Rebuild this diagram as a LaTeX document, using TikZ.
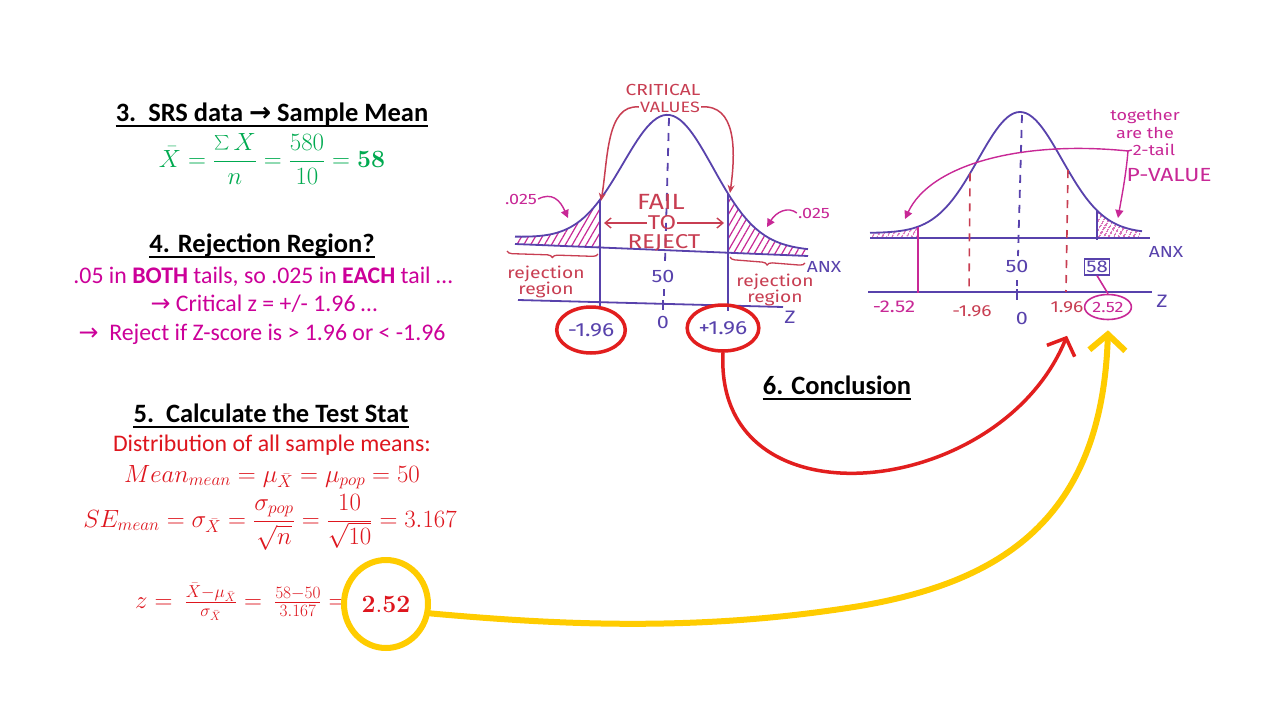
\documentclass[tikz,border=0pt]{standalone}
\usepackage[no-math]{fontspec}
\usepackage{graphicx}
\setmainfont{Carlito}
\newfontfamily\hand[FakeStretch=1.2]{Fira Sans}
\newfontfamily\dv{DejaVu Sans}
\usetikzlibrary{shapes.geometric, arrows.meta, patterns.meta, decorations.pathreplacing}
\definecolor{sgreen}{RGB}{0,170,80}
\definecolor{spink}{RGB}{204,0,153}
\definecolor{sred}{RGB}{222,22,30}
\definecolor{hblue}{RGB}{88,66,172}
\definecolor{hred}{RGB}{200,62,82}
\definecolor{hmag}{RGB}{200,40,150}
\definecolor{inkred}{RGB}{226,30,30}
\definecolor{yel}{RGB}{255,204,0}
\newcommand{\hf}[1]{\hand\fontsize{#1}{#1}\selectfont}
\newcommand{\bigsum}{\mathop{\vcenter{\hbox{\scalebox{1.45}{$\sum$}}}}\nolimits}
\begin{document}
\begin{tikzpicture}[x=1pt,y=-1pt,
  declare function={lc(\x)=237+0.045*(\x-515)-129*exp(-0.5*((\x-668)/45)^2);
                    la(\x)=244+12*(\x-515)/293;
                    rc(\x)=233-121*exp(-0.5*((\x-1020)/42)^2);},
  ttl/.style={font=\fontsize{26.5}{30}\selectfont\bfseries, inner sep=0pt, anchor=base},
  pinkt/.style={font=\fontsize{23.8}{27}\selectfont, text=spink, inner sep=0pt, anchor=base},
  redt/.style={font=\fontsize{23.8}{27}\selectfont, text=sred, inner sep=0pt, anchor=base},
  mathg/.style={font=\fontsize{24}{28}\selectfont, text=sgreen, inner sep=0pt, anchor=base},
  mathr/.style={font=\fontsize{23}{28}\selectfont, text=sred, inner sep=0pt, anchor=base},
  hand/.style={inner sep=1pt},
  bline/.style={hblue, line width=1.8pt},
  hatchL/.style={pattern={Lines[angle=60,distance=6pt,line width=1.2pt]}, pattern color=hmag},
  hatchR/.style={pattern={Lines[angle=60,distance=4pt,line width=1.3pt]}, pattern color=hmag},
  uline/.style={line width=1.6pt}
]
\useasboundingbox (0,0) rectangle (1280,720);
\fill[white] (0,0) rectangle (1280,720);

% ---------- left text column ----------
\node[ttl] (t3) at (272,121) {3.\ \ SRS data {\dv →} Sample Mean};
\draw[uline] ([yshift=-5pt]t3.base west) -- ([yshift=-5pt]t3.base east);
\node[mathg] (f3) at (272,167) {$\displaystyle \bar{X}=\frac{\bigsum X}{n}=\frac{580}{10}=\mathbf{58}$};

\node[ttl] (t4) at (262,252) {4. Rejection Region?};
\draw[uline] ([yshift=-5pt]t4.base west) -- ([yshift=-5pt]t4.base east);
\node[pinkt] (p1) at (263,283) {.05 in \textbf{BOTH} tails, so .025 in \textbf{EACH} tail …};
\node[pinkt] (p2) at (264,311) {{\dv →} Critical z = +/- 1.96 …};
\node[pinkt] (p3) at (262,340) {{\dv →}\ \ Reject if Z-score is > 1.96 or < -1.96};

\node[ttl] (t5) at (271,422) {5.\ \ Calculate the Test Stat};
\draw[uline] ([yshift=-5pt]t5.base west) -- ([yshift=-5pt]t5.base east);
\node[redt] (d5) at (272,451) {Distribution of all sample means:};
\node[mathr] (m5) at (272,482) {$Mean_{mean}=\mu_{\bar{X}}=\mu_{pop}=50$};
\node[mathr] (s5) at (270,527) {$\displaystyle SE_{mean}=\sigma_{\bar{X}}=\frac{\sigma_{pop}}{\sqrt{n}}=\frac{10}{\sqrt{10}}=3.167$};
\node[mathr, anchor=base west] (z5) at (135,608) {$z=\ \frac{\bar{X}-\mu_{\bar{X}}}{\sigma_{\bar{X}}}=\ \frac{58-50}{3.167}=$};
\node[ellipse, draw=yel, line width=6pt, minimum width=84pt, minimum height=88pt, inner sep=0pt,
      font=\fontsize{24}{30}\selectfont, text=sred] (zval) at (386,604) {$\mathbf{2.52}$};

% ---------- left hand-drawn graph ----------
\fill[hatchL] plot[domain=515:600,samples=30] (\x,{lc(\x)}) -- (600,{la(600)}) -- (515,{la(515)}) -- cycle;
\fill[hatchL] plot[domain=728:808,samples=30] (\x,{lc(\x)}) -- (808,{la(808)}) -- (728,{la(728)}) -- cycle;
\draw[bline] plot[domain=515:808,samples=90,smooth] (\x,{lc(\x)});
\draw[bline] (515,244) -- (808,256);
\draw[bline] (518,300) -- (783,307);
\draw[bline] (600,{lc(600)}) -- (600,306);
\draw[bline] (728,{lc(728)}) -- (728,311);
\draw[hblue, line width=1.8pt, dash pattern=on 8pt off 7pt] (669,118) -- (665,262);
\draw[hblue, line width=1.8pt] (664,289) -- (664,296) (663,300) -- (663,310);

\node[hand, font=\hf{16}, text=hred] (crA) at (663,90) {CRITICAL};
\node[hand, font=\hf{15}, text=hred] (crB) at (670,107) {VALUES};
\draw[hred, line width=1.5pt, -{Stealth[length=8pt,width=7pt]}] (crB.west) .. controls (606,104) and (608,160) .. (601,201);
\draw[hred, line width=1.5pt, -{Stealth[length=8pt,width=7pt]}] (crB.east) .. controls (736,104) and (736,150) .. (730,193);

\node[hand, font=\hf{22}, text=hred] (fail) at (661,202) {FAIL};
\node[hand, font=\hf{20}, text=hred] (to) at (662,223) {TO};
\node[hand, font=\hf{20}, text=hred] (rej) at (664,243) {REJECT};
\coordinate (ftl) at (604,223);
\coordinate (ftr) at (724,223);
\draw[hred, line width=1.4pt, -{Straight Barb[length=6pt,width=10pt]}] (to.west) -- (ftl);
\draw[hred, line width=1.4pt, -{Straight Barb[length=6pt,width=10pt]}] (to.east) -- (ftr);

\node[hand, font=\hf{15}, text=hmag] (q1) at (521,199) {.025};
\draw[hmag, line width=1.4pt, -{Triangle[length=8pt,width=8pt]}] (q1.east) .. controls (552,192) and (560,200) .. (568,218);
\node[hand, font=\hf{15}, text=hmag] (q2) at (814,213) {.025};
\draw[hmag, line width=1.4pt, -{Triangle[length=8pt,width=8pt]}] (q2.west) .. controls (788,206) and (776,212) .. (767,227);

\draw[hred, line width=1.3pt, decorate, decoration={brace, mirror, amplitude=5pt}] (507,251) -- (598,254);
\draw[hred, line width=1.3pt, decorate, decoration={brace, mirror, amplitude=5pt}] (730,257) -- (805,263);
\node[hand, text=hred, align=center, font=\hf{16}] (rr1) at (546,282) {rejection\\region};
\node[hand, text=hred, align=center, font=\hf{16}] (rr2) at (775,290) {rejection\\region};

\node[hand, font=\hf{18}, text=hblue] (l50) at (663,276) {50};
\node[hand, font=\hf{18}, text=hblue] (l0) at (663,322) {0};
\node[hand, font=\hf{18}, text=hblue] (lz) at (790,317) {Z};
\node[hand, font=\hf{16}, text=hblue] (lanx) at (824,267) {ANX};
\node[ellipse, draw=inkred, line width=3.5pt, minimum width=66pt, minimum height=46pt, inner sep=0pt,
      hand, font=\hf{19}, text=hblue] (rc1) at (591,330) {-1.96};
\node[ellipse, draw=inkred, line width=3.5pt, minimum width=62pt, minimum height=46pt, inner sep=0pt,
      hand, font=\hf{19}, text=hblue] (rc2) at (723,328) {+1.96};

% ---------- right hand-drawn graph ----------
\fill[hatchR] plot[domain=872:918,samples=20] (\x,{rc(\x)}) -- (918,238) -- (872,238) -- cycle;
\fill[hatchR] plot[domain=1097:1140,samples=20] (\x,{rc(\x)}) -- (1140,238) -- (1097,238) -- cycle;
\draw[bline] plot[domain=870:1142,samples=90,smooth] (\x,{rc(\x)});
\draw[bline] (870,238) -- (1150,238);
\draw[bline] (868,292) -- (1152,292);
\draw[hblue, line width=1.8pt, dash pattern=on 8pt off 7pt] (1022,115) -- (1018,256);
\draw[hblue, line width=1.8pt] (1017,280) -- (1017,286) (1017,289) -- (1017,300);
\draw[hred, line width=1.6pt, dash pattern=on 8pt off 7pt] (970,{rc(970)}) -- (969,292);
\draw[hred, line width=1.6pt, dash pattern=on 8pt off 7pt] (1068,{rc(1068)}) -- (1066,292);
\draw[hmag, line width=1.6pt] (918,{rc(918)}) -- (918,293);
\draw[bline] (1097,{rc(1097)}) -- (1097,240);

\node[draw=hblue, line width=1.4pt, hand, font=\hf{17}, text=hblue, inner sep=2pt] (b58) at (1097,267) {58};
\node[ellipse, draw=hmag, line width=1.6pt, minimum width=42pt, minimum height=25pt, inner sep=0pt,
      hand, font=\hf{15}, text=hmag] (re252) at (1108,307) {2.52};
\draw[hmag, line width=1.6pt] (b58.south) -- (re252.north);

\node[hand, font=\hf{17}, text=hmag] (rm252) at (894,307) {-2.52};
\node[hand, font=\hf{16}, text=hred] (rm196) at (972,311) {-1.96};
\node[hand, font=\hf{16}, text=hred] (r196) at (1067,307) {1.96};
\node[hand, font=\hf{18}, text=hblue] (r50) at (1017,266) {50};
\node[hand, font=\hf{18}, text=hblue] (r0) at (1022,318) {0};
\node[hand, font=\hf{18}, text=hblue] (rz) at (1162,301) {Z};
\node[hand, font=\hf{16}, text=hblue] (ranx) at (1166,252) {ANX};

\node[hand, font=\hf{15}, text=hmag] (tg1) at (1145,116) {together};
\node[hand, font=\hf{15}, text=hmag] (tg2) at (1145,133) {are the};
\node[hand, font=\hf{15}, text=hmag] (tg3) at (1154,150) {2-tail};
\node[hand, font=\hf{19}, text=hmag] (tg4) at (1169,175) {P-VALUE};
\coordinate (pj) at (1128,151);
\draw[hmag, line width=1.4pt] (tg3.west) -- (pj);
\draw[hmag, line width=1.4pt, -{Triangle[length=8pt,width=8pt]}] (pj) .. controls (1020,140) and (930,165) .. (905,219);
\draw[hmag, line width=1.4pt, -{Triangle[length=8pt,width=8pt]}] (pj) .. controls (1126,175) and (1122,195) .. (1118,218);

% ---------- conclusion and connectors ----------
\node[ttl] (t6) at (837,394) {6. Conclusion};
\draw[uline] ([yshift=-5pt]t6.base west) -- ([yshift=-5pt]t6.base east);

\coordinate (redtip) at ([yshift=-22pt]r196.south);
\draw[inkred, line width=3.5pt, line cap=round, -{Straight Barb[length=14pt,width=30pt]}]
  (rc2.south) .. controls (714,530) and (1000,500) .. (redtip);
\coordinate (yeltip) at ([yshift=-10pt]re252.south);
\draw[yel, line width=6pt, line cap=round, -{Straight Barb[length=16pt,width=36pt]}]
  (zval.-12) .. controls (560,625) and (700,632) .. (860,606) .. controls (1000,582) and (1102,520) .. (yeltip);
\end{tikzpicture}
\end{document}
